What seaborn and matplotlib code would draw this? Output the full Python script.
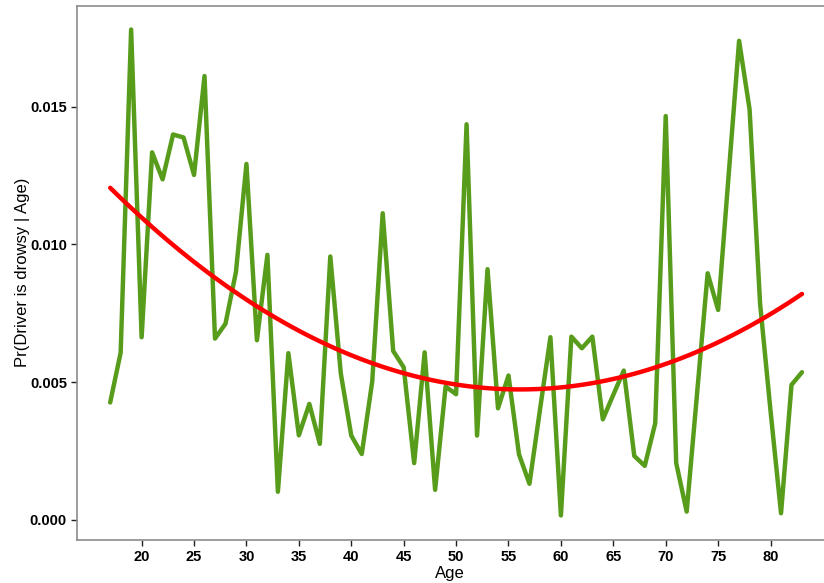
import numpy as np
import pandas as pd
import matplotlib
matplotlib.use("Agg")
import matplotlib.pyplot as plt
import seaborn as sns

# Age of driver and estimated probability of drowsiness
ages = list(range(17, 84))
pr_drowsy = [
    0.00426, 0.00607, 0.01780, 0.00663, 0.01334, 0.01236, 0.01399, 0.01388,
    0.01252, 0.01611, 0.00658, 0.00712, 0.00900, 0.01292, 0.00652, 0.00962,
    0.00102, 0.00605, 0.00307, 0.00421, 0.00276, 0.00956, 0.00532, 0.00306,
    0.00239, 0.00502, 0.01113, 0.00613, 0.00554, 0.00206, 0.00608, 0.00109,
    0.00484, 0.00456, 0.01436, 0.00306, 0.00910, 0.00405, 0.00524, 0.00238,
    0.00131, 0.00399, 0.00663, 0.00016, 0.00665, 0.00623, 0.00665, 0.00365,
    0.00454, 0.00542, 0.00232, 0.00196, 0.00351, 0.01466, 0.00206, 0.00030,
    0.00463, 0.00895, 0.00762, 0.01250, 0.01739, 0.01490, 0.00786, 0.00395,
    0.00024, 0.00490, 0.00536,
]
x_ticks = list(range(20, 85, 5))
y_ticks = [0.000, 0.005, 0.010, 0.015]

df = pd.DataFrame({"Age": ages, "pr": pr_drowsy})

sns.set_style("ticks")
plt.rcParams["font.family"] = ["Liberation Sans", "DejaVu Sans"]

fig = plt.figure(figsize=(8.24, 5.83), dpi=100)
ax = fig.add_axes([0.093, 0.074, 0.907, 0.9165])

sns.lineplot(data=df, x="Age", y="pr", color="#589c1b", linewidth=3.2, ax=ax, zorder=2)
# quadratic fit through the same points
sns.regplot(data=df, x="Age", y="pr", order=2, scatter=False, ci=None,
            color="#ff0000", line_kws={"linewidth": 3.2, "zorder": 3}, ax=ax)

ax.set_xlim(13.8, 85.1)
ax.set_ylim(-0.000726, 0.01867)
ax.set_xticks(x_ticks)
ax.set_yticks(y_ticks)
ax.set_yticklabels([f"{v:.3f}" for v in y_ticks])
ax.tick_params(axis="both", direction="out", length=4, width=1, color="#222222",
               labelcolor="black", labelsize=10.5, pad=3)
for lbl in ax.get_xticklabels() + ax.get_yticklabels():
    lbl.set_fontweight("bold")

for side in ["left", "bottom", "top"]:
    ax.spines[side].set_color("#8c8c8c")
    ax.spines[side].set_linewidth(1.2)
ax.spines["right"].set_visible(False)

ax.set_xlabel("Age", fontsize=12, labelpad=2, color="black")
ax.set_ylabel("Pr(Driver is drowsy | Age)", fontsize=12, labelpad=0, color="black")

fig.savefig("out.png", dpi=100)
